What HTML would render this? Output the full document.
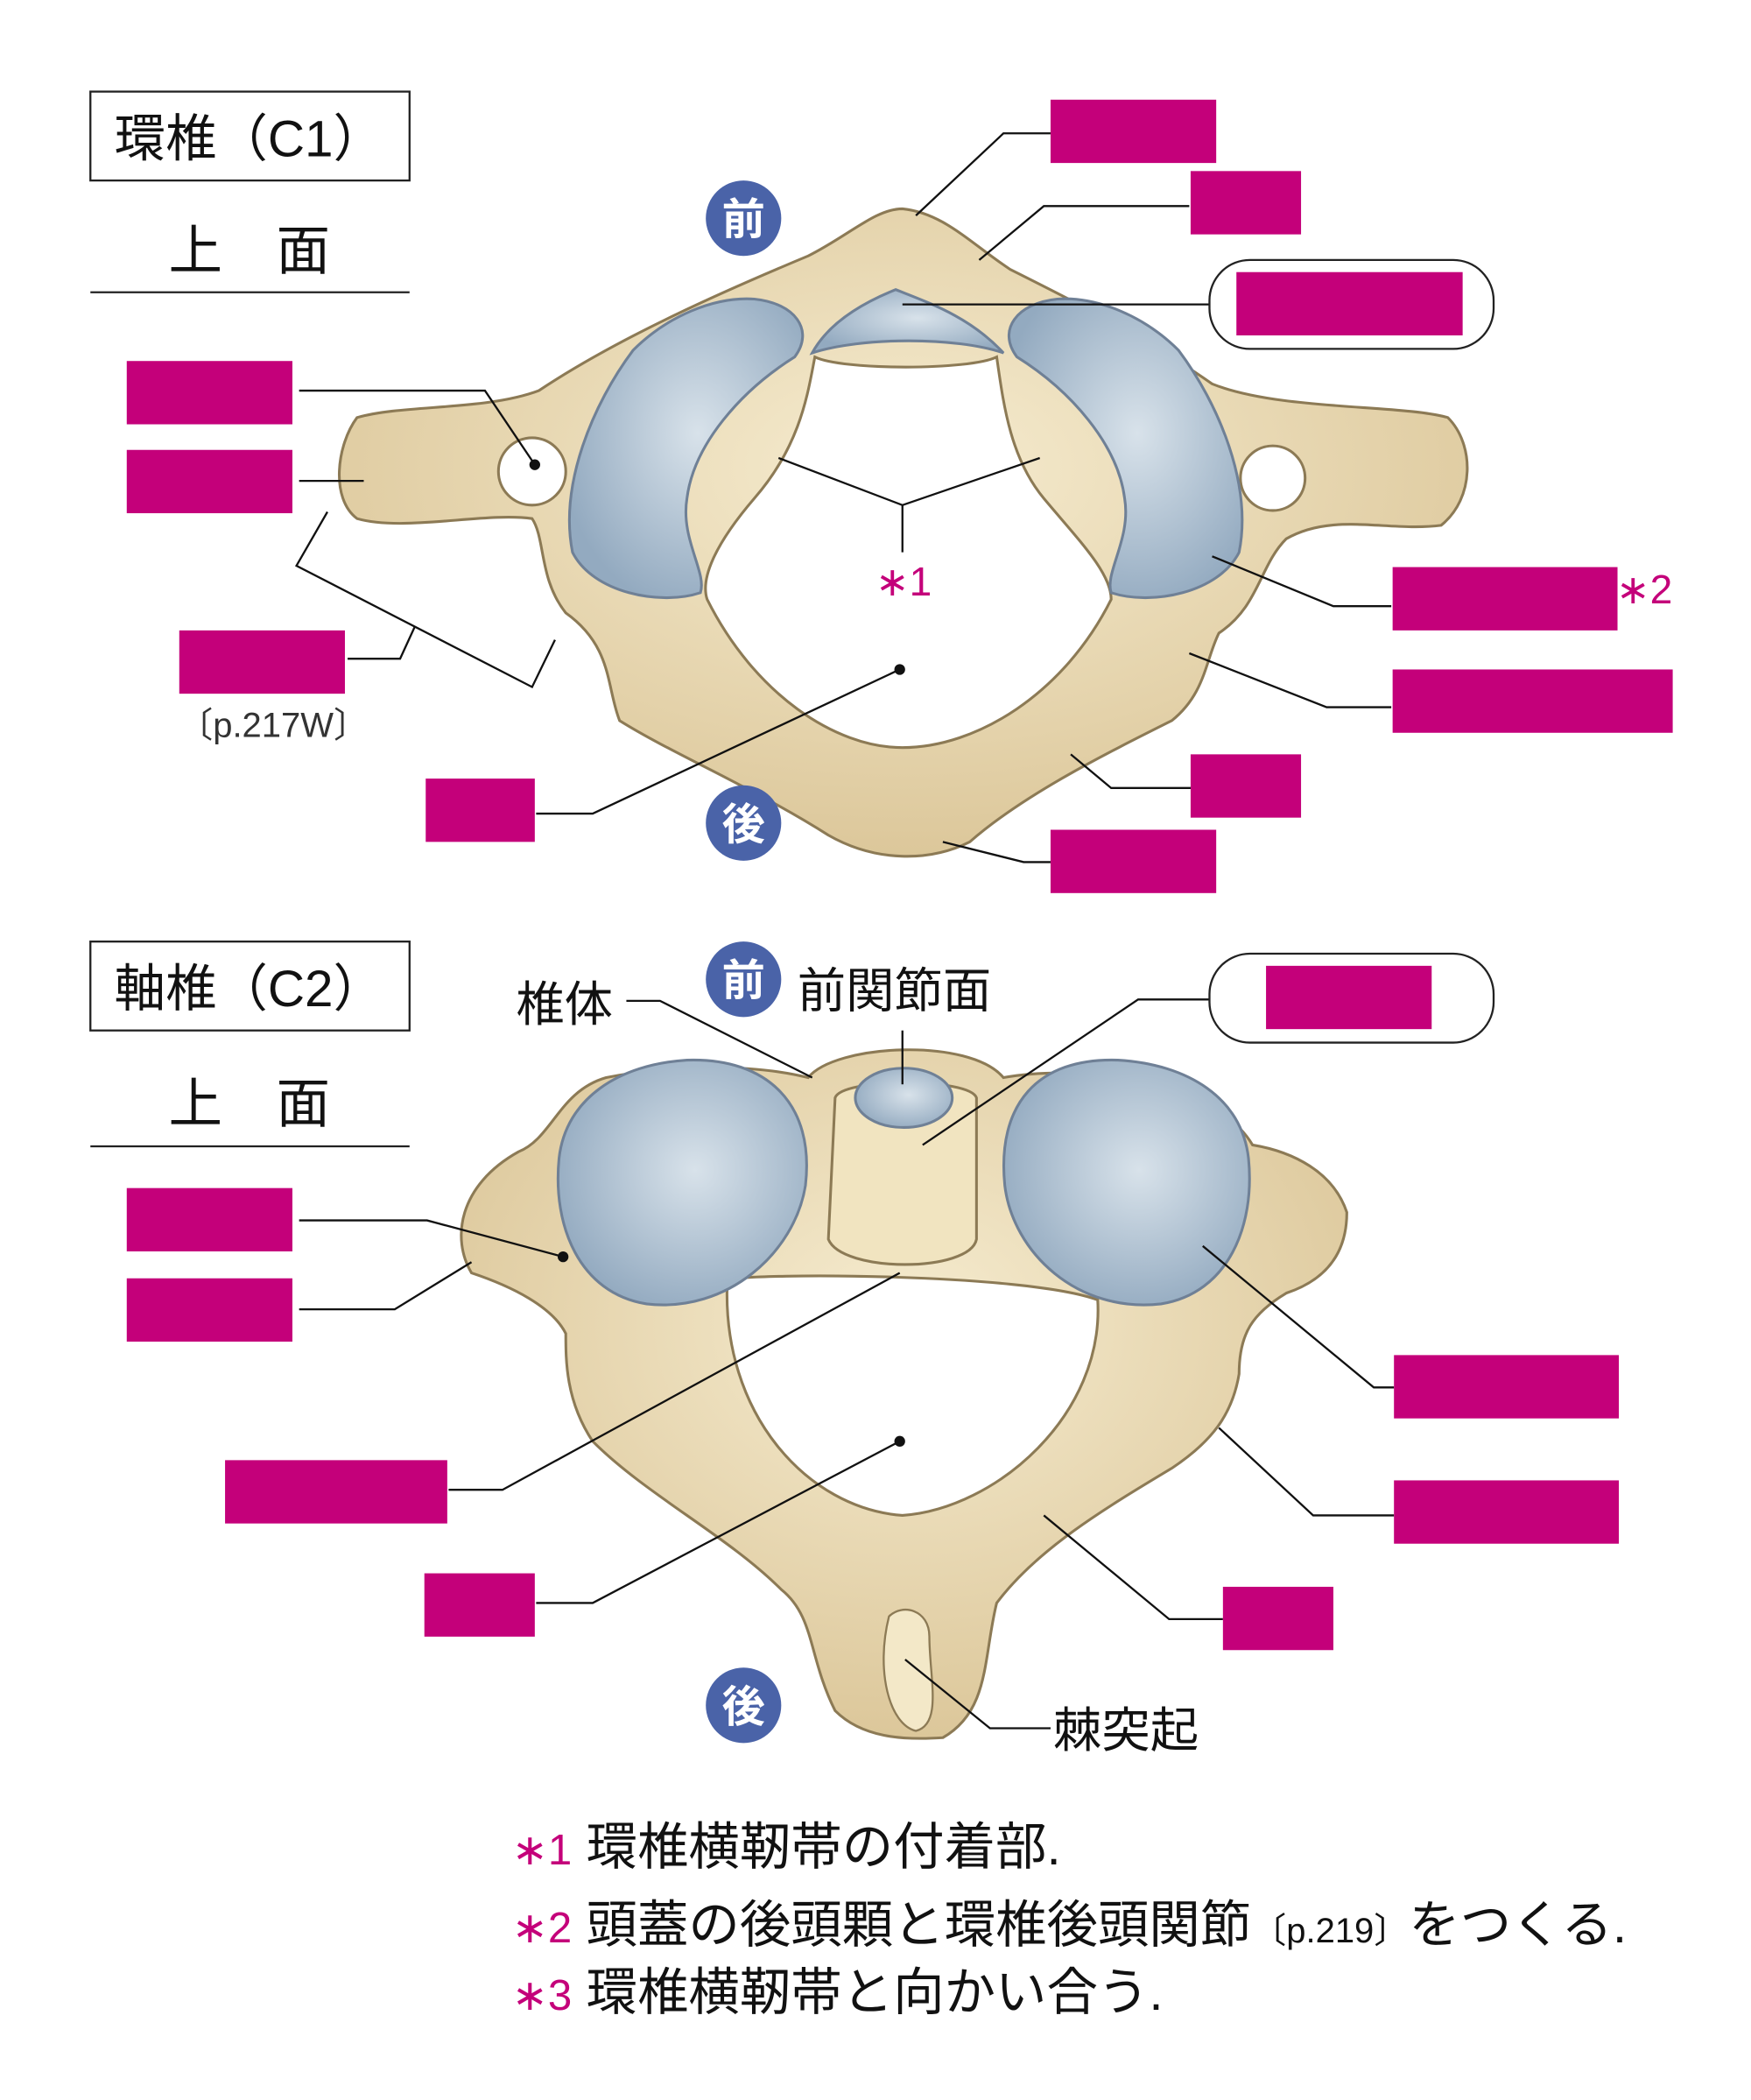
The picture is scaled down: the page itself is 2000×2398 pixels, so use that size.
<!DOCTYPE html>
<html><head><meta charset="utf-8">
<style>
html,body{margin:0;padding:0;background:#fff;}
svg{display:block;}
text{font-family:"Liberation Sans","Noto Sans CJK JP",sans-serif;}
</style></head>
<body>
<svg width="2000" height="2398" viewBox="0 0 1300 1559" xmlns="http://www.w3.org/2000/svg">
<defs>
<radialGradient id="bone" cx="50%" cy="40%" r="60%">
<stop offset="0" stop-color="#f6ecd0"/><stop offset="1" stop-color="#dcc79a"/></radialGradient>
<radialGradient id="cart" cx="55%" cy="45%" r="60%">
<stop offset="0" stop-color="#d8e2ea"/><stop offset="1" stop-color="#93aac0"/></radialGradient>
</defs>
<rect x="67" y="68" width="237" height="66" fill="none" stroke="#222" stroke-width="1.5"/>
<text x="185" y="116" font-size="38" text-anchor="middle" fill="#111">環椎（C1）</text>
<text x="185" y="200" font-size="40" text-anchor="middle" fill="#111">上　面</text>
<line x1="67" y1="217" x2="304" y2="217" stroke="#222" stroke-width="1.5"/>
<rect x="67" y="699" width="237" height="66" fill="none" stroke="#222" stroke-width="1.5"/>
<text x="185" y="747" font-size="38" text-anchor="middle" fill="#111">軸椎（C2）</text>
<text x="185" y="833" font-size="40" text-anchor="middle" fill="#111">上　面</text>
<line x1="67" y1="851" x2="304" y2="851" stroke="#222" stroke-width="1.5"/>

<path d="M670,155 C700,158 720,180 750,200 C800,225 850,250 900,285 C950,305 1040,300 1075,310 C1095,330 1095,370 1070,390 C1030,395 990,380 955,400 C935,420 935,450 905,470 C895,490 895,515 870,535 C820,560 760,590 720,625 C690,640 650,640 615,620 C560,585 500,560 460,535 C450,510 455,480 420,455 C400,430 405,400 395,385 C360,380 300,395 265,385 C245,370 250,330 265,310 C300,300 360,305 400,290 C460,250 540,215 600,190 C630,175 650,155 670,155 Z" fill="url(#bone)" stroke="#8c7a55" stroke-width="2"/>
<circle cx="395" cy="350" r="25" fill="#fff" stroke="#8c7a55" stroke-width="2"/>
<circle cx="945" cy="355" r="24" fill="#fff" stroke="#8c7a55" stroke-width="2"/>
<path d="M605,265 C600,290 595,330 560,370 C530,405 520,430 525,445 C560,515 620,555 670,555 C725,555 790,515 825,445 C825,425 800,400 775,370 C750,340 745,300 740,265 C720,275 625,275 605,265 Z" fill="#fff" stroke="#8c7a55" stroke-width="2"/>
<path d="M603,262 C615,240 640,225 665,215 C690,225 720,235 745,262 C710,250 640,250 603,262 Z" fill="url(#cart)" stroke="#6f8096" stroke-width="2"/>
<path d="M560,222 C590,225 605,245 590,265 C550,290 515,330 510,370 C505,400 525,425 520,440 C490,450 440,440 425,410 C415,360 440,300 470,260 C495,235 530,220 560,222 Z" fill="url(#cart)" stroke="#6f8096" stroke-width="2"/>
<path d="M785,222 C755,225 740,245 755,265 C795,290 830,330 835,370 C840,400 820,425 825,440 C855,450 905,440 920,410 C930,360 905,300 875,260 C850,235 815,220 785,222 Z" fill="url(#cart)" stroke="#6f8096" stroke-width="2"/>

<path d="M600,800 C620,775 720,770 745,800 C800,790 900,800 930,850 C960,855 990,870 1000,900 C1000,930 985,950 955,960 C930,975 920,990 920,1020 C915,1050 900,1070 870,1090 C820,1120 770,1150 740,1190 C730,1230 735,1270 700,1290 C670,1292 640,1290 620,1270 C600,1230 605,1200 580,1180 C540,1140 480,1110 440,1070 C420,1040 420,1010 420,990 C410,970 380,955 350,945 C335,920 340,880 385,855 C410,845 415,810 450,800 C500,790 560,790 600,800 Z" fill="url(#bone)" stroke="#8c7a55" stroke-width="2"/>
<path d="M540,950 C560,945 760,945 815,965 C820,1050 740,1120 670,1125 C600,1120 535,1050 540,950 Z" fill="#fff" stroke="#8c7a55" stroke-width="2"/>
<path d="M620,815 C625,800 720,800 725,815 L725,920 C720,945 625,945 615,920 Z" fill="#f1e4c0" stroke="#8c7a55" stroke-width="2"/>
<ellipse cx="671" cy="815" rx="36" ry="22" fill="url(#cart)" stroke="#6f8096" stroke-width="2"/>
<path d="M660,1200 C670,1190 690,1195 690,1215 C690,1245 700,1280 680,1285 C660,1280 650,1240 660,1200 Z" fill="#f3e8c8" stroke="#8c7a55" stroke-width="1.5"/>
<path d="M510,787 C570,785 605,820 598,880 C590,930 540,975 480,968 C430,960 410,910 415,860 C420,815 460,790 510,787 Z" fill="url(#cart)" stroke="#6f8096" stroke-width="2"/>
<path d="M830,787 C770,785 740,820 746,880 C752,930 800,975 862,968 C912,960 932,910 927,860 C922,815 882,790 830,787 Z" fill="url(#cart)" stroke="#6f8096" stroke-width="2"/>

<g font-size="32" fill="#fff" text-anchor="middle" font-weight="bold">
<circle cx="552" cy="162" r="28" fill="#4a63a8"/><text x="552" y="174">前</text>
<circle cx="552" cy="611" r="28" fill="#4a63a8"/><text x="552" y="623">後</text>
<circle cx="552" cy="727" r="28" fill="#4a63a8"/><text x="552" y="739">前</text>
<circle cx="552" cy="1266" r="28" fill="#4a63a8"/><text x="552" y="1278">後</text>
</g>

<g stroke="#111" stroke-width="1.5" fill="none">
<polyline points="680,160 745,99 780,99"/>
<polyline points="727,193 775,153 883,153"/>
<polyline points="670,226 898,226"/>
<polyline points="222,290 360,290 397,345"/>
<polyline points="222,357 270,357"/>
<polyline points="243,380 220,420 395,510 412,475"/>
<polyline points="258,489 297,489 308,465"/>
<polyline points="578,340 670,375 772,340"/>
<polyline points="670,375 670,410"/>
<polyline points="900,413 990,450 1033,450"/>
<polyline points="883,485 985,525 1033,525"/>
<polyline points="398,604 440,604 668,497"/>
<polyline points="795,560 825,585 885,585"/>
<polyline points="700,625 760,640 780,640"/>
<polyline points="465,743 490,743 603,800"/>
<polyline points="670,765 670,805"/>
<polyline points="685,850 845,742 898,742"/>
<polyline points="222,906 317,906 418,933"/>
<polyline points="222,972 293,972 350,937"/>
<polyline points="893,925 1020,1030 1035,1030"/>
<polyline points="905,1060 975,1125 1035,1125"/>
<polyline points="333,1106 373,1106 668,945"/>
<polyline points="398,1190 440,1190 668,1070"/>
<polyline points="775,1125 868,1202 908,1202"/>
<polyline points="672,1232 735,1283 780,1283"/>
</g>
<g fill="#111"><circle cx="397" cy="345" r="4"/><circle cx="668" cy="497" r="4"/><circle cx="418" cy="933" r="4"/><circle cx="668" cy="1070" r="4"/></g>

<rect x="898" y="193" width="211" height="66" rx="30" fill="#fff" stroke="#222" stroke-width="1.5"/>
<rect x="898" y="708" width="211" height="66" rx="30" fill="#fff" stroke="#222" stroke-width="1.5"/>

<g fill="#c4007a">
<rect x="780" y="74" width="123" height="47"/>
<rect x="884" y="127" width="82" height="47"/>
<rect x="918" y="202" width="168" height="47"/>
<rect x="94" y="268" width="123" height="47"/>
<rect x="94" y="334" width="123" height="47"/>
<rect x="133" y="468" width="123" height="47"/>
<rect x="1034" y="421" width="167" height="47"/>
<rect x="1034" y="497" width="208" height="47"/>
<rect x="316" y="578" width="81" height="47"/>
<rect x="884" y="560" width="82" height="47"/>
<rect x="780" y="616" width="123" height="47"/>
<rect x="940" y="717" width="123" height="47"/>
<rect x="94" y="882" width="123" height="47"/>
<rect x="94" y="949" width="123" height="47"/>
<rect x="1035" y="1006" width="167" height="47"/>
<rect x="1035" y="1099" width="167" height="47"/>
<rect x="167" y="1084" width="165" height="47"/>
<rect x="315" y="1168" width="82" height="47"/>
<rect x="908" y="1178" width="82" height="47"/>
</g>

<text x="132" y="547" font-size="26" fill="#333">〔p.217W〕</text>
<text x="650" y="442" font-size="30" fill="#c4007a">∗1</text>
<text x="1200" y="448" font-size="30" fill="#c4007a">∗2</text>
<text x="383" y="758" font-size="36" fill="#111">椎体</text>
<text x="592" y="748" font-size="36" fill="#111">前関節面</text>
<text x="782" y="1297" font-size="36" fill="#111">棘突起</text>

<g font-size="38" fill="#111">
<text x="380" y="1384"><tspan fill="#c4007a" font-size="32">∗1</tspan> 環椎横靭帯の付着部.</text>
<text x="380" y="1442"><tspan fill="#c4007a" font-size="32">∗2</tspan> 頭蓋の後頭顆と環椎後頭関節<tspan font-size="26">〔p.219〕</tspan>をつくる.</text>
<text x="380" y="1492"><tspan fill="#c4007a" font-size="32">∗3</tspan> 環椎横靭帯と向かい合う.</text>
</g>
</svg>
</body></html>
